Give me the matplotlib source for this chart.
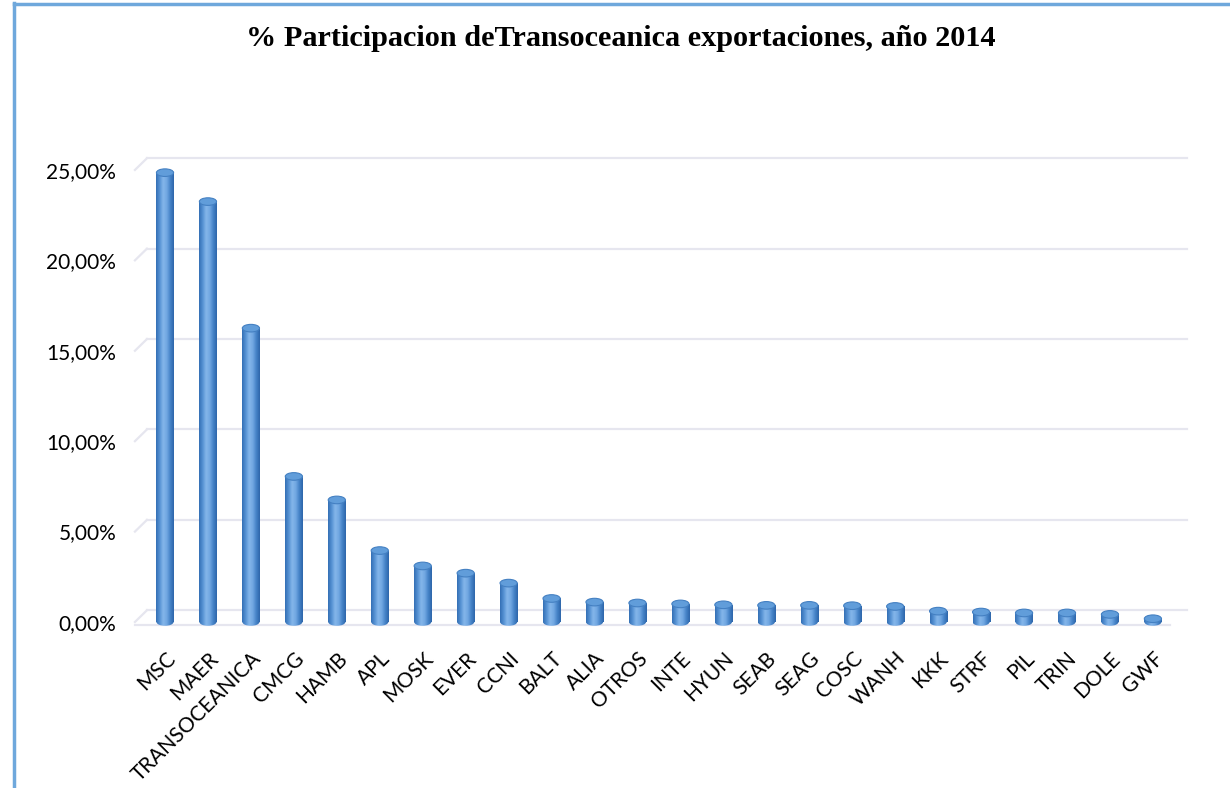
import numpy as np
import matplotlib
matplotlib.use("Agg")
import matplotlib.pyplot as plt
from matplotlib.patches import Ellipse
from matplotlib.colors import LinearSegmentedColormap
from matplotlib.lines import Line2D

# shipping lines and their share of exports (%)
navieras = ['MSC', 'MAER', 'TRANSOCEANICA', 'CMCG', 'HAMB', 'APL', 'MOSK', 'EVER',
            'CCNI', 'BALT', 'ALIA', 'OTROS', 'INTE', 'HYUN', 'SEAB', 'SEAG', 'COSC',
            'WANH', 'KKK', 'STRF', 'PIL', 'TRIN', 'DOLE', 'GWF']
participacion = [24.85, 23.25, 16.25, 8.05, 6.75, 3.95, 3.1, 2.7, 2.15, 1.3, 1.1, 1.05,
                 1.0, 0.95, 0.92, 0.92, 0.9, 0.86, 0.6, 0.55, 0.5, 0.5, 0.42, 0.18]
yticks = [0, 5, 10, 15, 20, 25]
ytick_labels = ['0,00%', '5,00%', '10,00%', '15,00%', '20,00%', '25,00%']
titulo = '% Participacion deTransoceanica exportaciones, año 2014'

fig = plt.figure(figsize=(12.3, 7.88), dpi=100)
W, H = 1230, 788
ax = fig.add_axes([130 / W, 1 - 640 / H, 1065 / W, 495 / H])
ax.set_xlim(-0.815, 23.98)
ax.set_ylim(-0.996, 26.38)

# 3D-ish walls: back gridlines + slanted left edges
dy = 0.65
grid_col = '#E6E6EF'
for v in yticks:
    ax.plot([-0.42, 23.8], [v + dy, v + dy], color=grid_col, lw=1.6, zorder=0)
    ax.plot([-0.70, -0.42], [v, v + dy], color=grid_col, lw=1.6, zorder=0)
ax.plot([-0.70, 23.4], [-0.15, -0.15], color=grid_col, lw=1.6, zorder=0)

# cylinder bars
cmap = LinearSegmentedColormap.from_list(
    'cyl', ['#3470B5', '#5591D3', '#84B6EA', '#72A8E2', '#4583C8', '#2E66AA'])
grad = cmap(np.linspace(0, 1, 64))[np.newaxis, :, :]
w = 0.4
eh = 0.42
x = np.arange(len(navieras))
bars = ax.bar(x, participacion, width=w, color='none', edgecolor='none', zorder=2)
for xi, h, b in zip(x, participacion, bars):
    im = ax.imshow(grad, extent=(xi - w / 2, xi + w / 2, -eh, h), aspect='auto',
                   zorder=2, interpolation='bilinear')
    im.set_clip_path(b)
    bot = Ellipse((xi, 0), w, eh, facecolor='none', edgecolor='none', zorder=2)
    ax.add_patch(bot)
    im2 = ax.imshow(grad, extent=(xi - w / 2, xi + w / 2, -eh, h), aspect='auto',
                    zorder=2, interpolation='bilinear')
    im2.set_clip_path(bot)
    top = Ellipse((xi, h), w, eh, facecolor='#619DDA', edgecolor='#4480C2',
                  lw=0.8, zorder=3)
    ax.add_patch(top)

ax.set_yticks(yticks)
ax.set_yticklabels(ytick_labels, fontsize=15, family='Lato')
ax.set_xticks(x)
ax.set_xticklabels(navieras, rotation=45, ha='right', rotation_mode='anchor',
                   fontsize=15, family='Lato')
ax.tick_params(axis='both', length=0)
ax.tick_params(axis='y', pad=10)
ax.tick_params(axis='x', pad=6)
for s in ax.spines.values():
    s.set_visible(False)

fig.text(621 / W, 1 - 38 / H, titulo, ha='center', va='center',
         fontsize=21.8, fontweight='bold', family='Liberation Serif')

# chart frame (light blue border, cropped at right/bottom)
border = '#6FA8DC'
fig.add_artist(Line2D([14 / W, 14 / W], [0, 1 - 3 / H], color=border, lw=2.5,
                      transform=fig.transFigure))
fig.add_artist(Line2D([14 / W, 1], [1 - 4 / H, 1 - 4 / H], color=border, lw=2.5,
                      transform=fig.transFigure))

fig.savefig('out.png', dpi=100)
